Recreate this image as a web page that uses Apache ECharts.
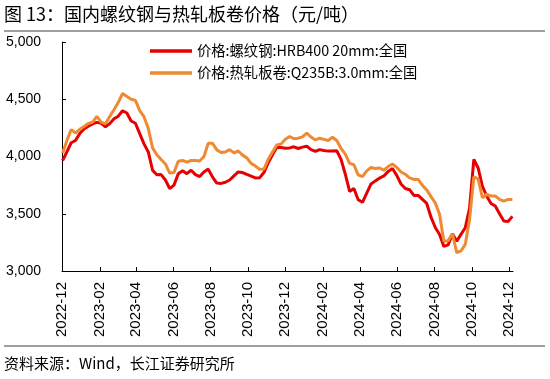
<!DOCTYPE html>
<html>
<head>
<meta charset="utf-8">
<script src="https://cdn.jsdelivr.net/npm/echarts@6/dist/echarts.min.js"></script>
<style>
html,body{margin:0;padding:0;background:#fff;}
#chart{width:550px;height:379px;}
</style>
</head>
<body>
<div id="chart"></div>
<script>
// Weekly sample dates (Fridays)
const dates = [
'2022-12-02','2022-12-09','2022-12-16','2022-12-23','2022-12-30',
'2023-01-06','2023-01-13','2023-01-20','2023-01-27','2023-02-03','2023-02-10','2023-02-17','2023-02-24',
'2023-03-03','2023-03-10','2023-03-17','2023-03-24','2023-03-31','2023-04-07','2023-04-14','2023-04-21','2023-04-28',
'2023-05-05','2023-05-12','2023-05-19','2023-05-26','2023-06-02','2023-06-09','2023-06-16','2023-06-23','2023-06-30',
'2023-07-07','2023-07-14','2023-07-21','2023-07-28','2023-08-04','2023-08-11','2023-08-18','2023-08-25',
'2023-09-01','2023-09-08','2023-09-15','2023-09-22','2023-09-29','2023-10-06','2023-10-13','2023-10-20','2023-10-27',
'2023-11-03','2023-11-10','2023-11-17','2023-11-24','2023-12-01','2023-12-08','2023-12-15','2023-12-22','2023-12-29',
'2024-01-05','2024-01-12','2024-01-19','2024-01-26','2024-02-02','2024-02-09','2024-02-16','2024-02-23',
'2024-03-01','2024-03-08','2024-03-15','2024-03-22','2024-03-29','2024-04-05','2024-04-12','2024-04-19','2024-04-26',
'2024-05-03','2024-05-10','2024-05-17','2024-05-24','2024-05-31','2024-06-07','2024-06-14','2024-06-21','2024-06-28',
'2024-07-05','2024-07-12','2024-07-19','2024-07-26','2024-08-02','2024-08-09','2024-08-16','2024-08-23','2024-08-30',
'2024-09-06','2024-09-13','2024-09-20','2024-09-27','2024-10-04','2024-10-11','2024-10-18','2024-10-25',
'2024-11-01','2024-11-08','2024-11-15','2024-11-22','2024-11-29','2024-12-06'
];

// 价格:螺纹钢:HRB400 20mm:全国
const rebar = [
3965,4040,4120,4140,4200,4240,4265,4285,4298,4290,
4260,4287,4330,4352,4400,4380,4310,4290,4200,4110,
4040,3880,3840,3842,3795,3720,3750,3850,3875,3850,
3880,3842,3825,3865,3890,3820,3768,3765,3775,3795,
3830,3865,3860,3843,3828,3813,3815,3860,3945,4015,
4080,4078,4072,4075,4085,4070,4082,4090,4060,4045,
4060,4052,4047,4047,4050,3975,3845,3695,3720,3623,
3600,3680,3760,3787,3812,3830,3870,3895,3835,3760,
3720,3710,3660,3660,3625,3590,3470,3380,3318,3215,
3228,3325,3260,3320,3378,3550,3974,3900,3740,3655,
3590,3568,3500,3437,3433,3477
];

// 价格:热轧板卷:Q235B:3.0mm:全国
const hrc = [
4030,4140,4235,4205,4237,4262,4288,4300,4350,4300,
4285,4350,4408,4473,4550,4525,4500,4490,4400,4348,
4245,4075,4015,3974,3935,3855,3860,3958,3965,3950,
3965,3965,3960,4000,4115,4115,4058,4035,4040,4060,
4032,4048,4012,3988,3940,3917,3888,3890,3975,4040,
4100,4110,4150,4175,4155,4160,4172,4205,4170,4145,
4160,4150,4140,4168,4140,4070,4020,3940,3928,3840,
3825,3875,3904,3895,3900,3880,3912,3934,3905,3865,
3845,3814,3800,3800,3748,3708,3650,3595,3495,3260,
3265,3325,3160,3175,3232,3450,3822,3805,3640,3670,
3655,3655,3625,3610,3625,3625
];

const seriesNames = ['价格:螺纹钢:HRB400 20mm:全国', '价格:热轧板卷:Q235B:3.0mm:全国'];
const xTickLabels = ['2022-12','2023-02','2023-04','2023-06','2023-08','2023-10','2023-12',
                     '2024-02','2024-04','2024-06','2024-08','2024-10','2024-12'];
const xStart = '2022-12-01', xEnd = '2024-12-07';
const yMin = 3000, yMax = 5000, yStep = 500;

const titleText = '图 13：国内螺纹钢与热轧板卷价格（元/吨）';
const sourceText = '资料来源：Wind，长江证券研究所';

function toTs(s) {
  const p = s.split('-');
  return new Date(+p[0], +p[1] - 1, p[2] ? +p[2] : 1).getTime();
}
const tickValues = xTickLabels.map(toTs);
function pad(n){ return n < 10 ? '0' + n : '' + n; }

const chart = echarts.init(document.getElementById('chart'), null, {renderer: 'canvas'});
const latin = '"Liberation Sans", Arial, "Noto Sans CJK SC", sans-serif';
const cjk = '"Noto Sans CJK SC", "Microsoft YaHei", sans-serif';

chart.setOption({
  animation: false,
  backgroundColor: '#ffffff',
  grid: {left: 62, right: 37, top: 42, bottom: 108, containLabel: false},
  legend: {
    orient: 'vertical',
    left: 145,
    top: 37,
    icon: 'rect',
    itemWidth: 42,
    itemHeight: 3.5,
    itemGap: 4,
    textStyle: {fontFamily: cjk, fontSize: 14.3, color: '#000', lineHeight: 18},
    data: seriesNames
  },
  xAxis: {
    type: 'value',
    min: toTs(xStart),
    max: toTs(xEnd),
    axisLine: {lineStyle: {color: '#000', width: 1}},
    axisTick: {show: true, inside: true, length: 4, lineStyle: {color: '#000'}, customValues: tickValues},
    axisLabel: {
      rotate: 90, margin: 11, fontFamily: latin, fontSize: 15, color: '#000',
      customValues: tickValues,
      formatter: function (v) { const d = new Date(v); return d.getFullYear() + '-' + pad(d.getMonth() + 1); }
    },
    splitLine: {show: false}
  },
  yAxis: {
    type: 'value',
    min: yMin, max: yMax, interval: yStep,
    axisLine: {show: true, lineStyle: {color: '#000', width: 1}},
    axisTick: {show: true, inside: true, length: 4, lineStyle: {color: '#000'}},
    axisLabel: {
      margin: 21, fontFamily: latin, fontSize: 14, color: '#000',
      formatter: function (v) { return v.toLocaleString('en-US'); }
    },
    splitLine: {show: false}
  },
  series: [
    {
      name: seriesNames[0], type: 'line', symbol: 'none', showSymbol: false,
      color: '#E60000',
      lineStyle: {color: '#E60000', width: 3},
      data: dates.map((d, i) => [toTs(d), rebar[i]])
    },
    {
      name: seriesNames[1], type: 'line', symbol: 'none', showSymbol: false,
      color: '#F08A32',
      lineStyle: {color: '#F08A32', width: 3},
      data: dates.map((d, i) => [toTs(d), hrc[i]])
    }
  ],
  graphic: [
    {type: 'text', left: 4, top: 5, style: {text: titleText, font: '18px ' + cjk, fill: '#000'}},
    {type: 'line', shape: {x1: 4, y1: 31, x2: 545, y2: 31}, style: {stroke: '#404040', lineWidth: 1.2}},
    {type: 'line', shape: {x1: 4, y1: 346, x2: 545, y2: 346}, style: {stroke: '#404040', lineWidth: 1.2}},
    {type: 'text', left: 4, top: 356, style: {text: sourceText, font: '15px ' + cjk, fill: '#000'}}
  ]
});
</script>
</body>
</html>
